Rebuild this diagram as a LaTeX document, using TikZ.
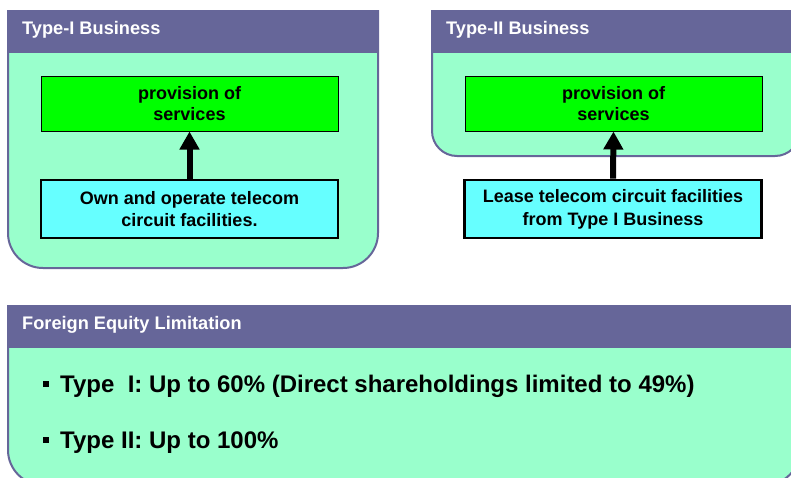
\documentclass[tikz,border=0pt]{standalone}
\usepackage{fontspec}
\setmainfont{Liberation Sans}
\usetikzlibrary{arrows.meta}
\definecolor{hdr}{RGB}{102,102,153}
\definecolor{pfill}{RGB}{153,255,204}
\definecolor{gbox}{RGB}{0,255,0}
\definecolor{cbox}{RGB}{102,255,255}
\tikzset{
  panelbg/.style={fill=pfill,draw=hdr,line width=2pt},
  hdrbar/.style={fill=hdr},
  hdrtext/.style={anchor=base west,inner sep=0pt,text=white,font=\fontsize{18.2}{21.5}\selectfont\bfseries},
  greenbox/.style={draw=black,line width=1pt,fill=gbox,minimum width=297pt,minimum height=55pt,align=center,inner sep=0pt,font=\fontsize{18}{21.5}\selectfont\bfseries},
  cyanbox/.style={draw=black,line width=2.6pt,fill=cbox,minimum width=297pt,minimum height=58pt,align=center,inner sep=0pt,font=\fontsize{18}{22.7}\selectfont\bfseries},
  bigarrow/.style={line width=6pt,-{Triangle[width=19pt,length=18pt]}},
  bullettext/.style={anchor=base west,inner sep=0pt,font=\fontsize{24}{28}\selectfont\bfseries}
}
\newcommand{\sqbullet}{\rule[5.5pt]{6pt}{6pt}\hspace{11pt}}
\begin{document}
\begin{tikzpicture}[x=1pt,y=-1pt]
\useasboundingbox (0,0) rectangle (791,477);
% Type-I panel
\path[panelbg] (8,11) -- (378,11) [rounded corners=35pt] -- (378,268) -- (8,268) [sharp corners] -- cycle;
\fill[hdrbar] (7,10) rectangle (379,53);
\node[hdrtext] (t1) at (22,34.3) {Type-I Business};
\node[greenbox] (g1) at (189.5,103.5) {provision of\\services};
\node[cyanbox] (c1) at (189.5,209) {Own and operate telecom\\circuit facilities.};
\draw[bigarrow] (c1.north) -- (g1.south);
% Type-II panel
\path[panelbg] (432,11) -- (800,11) [rounded corners=25pt] -- (800,156) -- (432,156) [sharp corners] -- cycle;
\fill[hdrbar] (431,10) rectangle (801,53);
\node[hdrtext] (t2) at (446,34.3) {Type-II Business};
\node[greenbox] (g2) at (613.5,103.5) {provision of\\services};
\node[cyanbox] (c2) at (613,209) {Lease telecom circuit facilities\\from Type I Business};
\draw[bigarrow] (c2.north) -- (g2.south);
% Foreign equity panel
\path[panelbg] (8,306) -- (800,306) [rounded corners=35pt] -- (800,485) -- (8,485) [sharp corners] -- cycle;
\fill[hdrbar] (7,305) rectangle (801,348);
\node[hdrtext] (t3) at (22,329.3) {Foreign Equity Limitation};
\node[bullettext] (b1) at (43,392) {\sqbullet Type\ \ I: Up to 60\% (Direct shareholdings limited to 49\%)};
\node[bullettext] (b2) at (43,448.3) {\sqbullet Type II: Up to 100\%};
\end{tikzpicture}
\end{document}
